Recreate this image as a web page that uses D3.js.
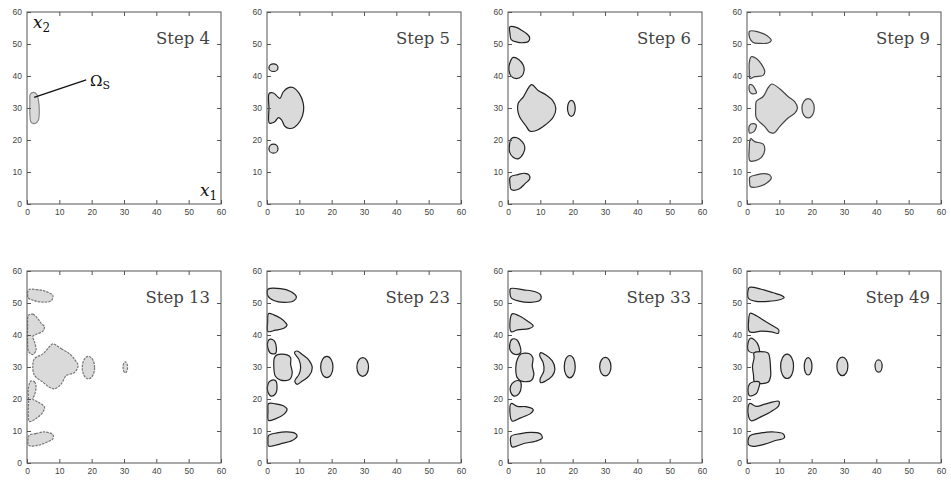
<!DOCTYPE html>
<html>
<head>
<meta charset="utf-8">
<script src="https://cdn.jsdelivr.net/npm/d3@7"></script>
<style>
    body { margin: 0; background: #fff; }
    svg { display: block; }
</style>
</head>
<body>
<svg width="951" height="483"></svg>
<script>
// Iteration steps shown in each panel
const steps = [4, 5, 6, 9, 13, 23, 33, 49];
const tickValues = [0, 10, 20, 30, 40, 50, 60];

// Region outlines, [x1, x2] in plot units
const step4Blobs = [
    [[1, 34.3], [2, 34.9], [3, 34.3], [3.6, 32], [3.8, 29], [3.5, 26.2], [2.5, 25.2], [1.3, 25.5], [0.9, 28], [0.9, 32]]
];
const step4Ovals = [];

const step5Blobs = [
    [[0.7, 34.6], [2, 34.7], [3, 33.8], [4, 33], [5, 35], [6.5, 36.3], [8, 36.4], [10, 34.5], [11.2, 31.5], [11.3, 29], [10.3, 26], [8.5, 24], [7, 23.6], [5.5, 24.3], [4.5, 26.3], [3.5, 27], [2.5, 25.8], [1.5, 25.3], [0.7, 25.3], [0.6, 30]]
];
const step5Ovals = [[2, 42.6, 1.4, 1.2], [2, 17.3, 1.4, 1.4]]; // cx, cy, rx, ry

const step6Blobs = [
    [[0.6, 55.4], [2.8, 55.1], [4.2, 54.3], [5.7, 53.3], [6.7, 52], [6.3, 50.8], [4.7, 50.4], [2.8, 50.6], [1, 51.4], [0.6, 53.3]],
    [[1.6, 45.8], [3.4, 45.1], [4.7, 43.4], [5, 41.8], [4.2, 39.9], [2.6, 39.2], [1, 39.9], [0.3, 41.8], [0.5, 43.9]],
    [[7.3, 37.3], [9.3, 35.5], [11.9, 34], [13.8, 32.4], [14.8, 29.8], [14, 27.2], [11.4, 24.6], [8.3, 22.8], [6.7, 22.8], [5.7, 24.2], [3.4, 27.7], [3.1, 31.3], [4.7, 33.4]],
    [[1, 20.4], [2.8, 20.7], [4.5, 19.3], [5.2, 17.8], [4.7, 15.7], [3.1, 14.1], [1.6, 14.6], [0.5, 16.2], [0.5, 18.8]],
    [[0.7, 8.4], [3.1, 9.2], [5.2, 9.6], [6.5, 9.1], [6.7, 7.8], [5.2, 6.3], [3.4, 4.7], [1, 4.5], [0.6, 6.3]]
];
const step6Ovals = [[19.6, 29.9, 1.2, 2.5]];

const step9Blobs = [
    [[0.8, 54], [3.4, 53.8], [6, 52.7], [7.5, 51.1], [6.5, 50.3], [3.9, 50.2], [1.9, 50.5], [0.9, 51.7]],
    [[1.3, 46], [2.9, 45.5], [4.4, 43.8], [5.5, 41.5], [5, 40.2], [2.4, 39.8], [0.9, 39.2], [0.7, 41.5], [0.7, 44.1]],
    [[0.8, 37.3], [1.7, 37.1], [2.4, 36.1], [2.9, 34.7], [1.5, 34.5], [0.8, 35.2]],
    [[7.7, 37.5], [10.1, 36], [12.7, 33.6], [14.8, 31.9], [15.6, 30], [14.8, 28.4], [12.7, 26.9], [10.1, 24.2], [8.4, 22.2], [7, 22.4], [5.5, 24.2], [2.9, 26.9], [2.7, 30], [2.9, 32.1], [5, 33.6], [6.5, 36.3]],
    [[0.8, 24.6], [2.2, 25.1], [2.9, 24.6], [2.2, 22.7], [0.8, 22.2]],
    [[1.1, 20.4], [2.4, 19.5], [5, 18.7], [5.5, 16.9], [4.4, 14.5], [2.4, 13.5], [0.9, 13.5], [0.7, 17.5]],
    [[0.9, 8.4], [2.9, 9.1], [5.5, 9.5], [7, 9.1], [7.5, 8], [6, 6.5], [3.4, 5.4], [1.1, 5.4], [0.8, 7]]
];
const step9Ovals = [[18.9, 29.9, 1.9, 3.0]];

const step13Blobs = [
    [[0.5, 54.1], [2.8, 54.2], [5.9, 53.6], [8, 52.3], [7.5, 50.7], [4.4, 50.3], [1.8, 50.9], [0.4, 51.6]],
    [[0.5, 46.2], [1.8, 46.5], [3.3, 45.2], [4.4, 43.6], [5.4, 42.6], [4.9, 41.2], [2.8, 40.2], [1.8, 39.6], [2.3, 37.9], [2.8, 35.3], [1.8, 33.9], [0.5, 34.8], [0.2, 37.9], [0.2, 42.2]],
    [[8, 37.2], [10.6, 35.7], [13.2, 34.1], [15, 32], [15.8, 30.4], [14.7, 28.3], [12.1, 27.3], [10.6, 24.7], [8.5, 23.2], [6.9, 23.7], [4.9, 25.3], [2.3, 27.4], [1.8, 30.5], [2.3, 32.6], [4.9, 34.1], [6.4, 35.7]],
    [[1.2, 25.6], [2.3, 25.4], [2.8, 23.8], [2.3, 21.2], [1.8, 20], [3.3, 19.1], [5.4, 17.5], [4.9, 15.9], [2.8, 13.9], [0.7, 13], [0.4, 15.9], [0.5, 19.5], [0.4, 23.2]],
    [[0.7, 8.7], [2.8, 9.2], [5.4, 9.7], [8, 8.9], [8, 7.6], [5.9, 6.4], [3.3, 5.5], [0.5, 5.5], [0.3, 7.1]]
];
const step13Ovals = [[19, 29.8, 1.9, 3.5], [30.4, 29.9, 0.7, 1.7]];

const step23Blobs = [
    [[0.3, 54.3], [4.2, 54.5], [7.3, 53.6], [9.1, 51.9], [8.3, 50.7], [5.2, 50.2], [2.1, 50.8], [0.3, 52.2]],
    [[0.5, 46.7], [2.1, 46.3], [4.2, 45.2], [5.7, 43.9], [6.2, 43.1], [5.2, 42.1], [2.6, 41.5], [0.3, 41.1], [0.2, 43.9]],
    [[1, 38.7], [2.1, 38.3], [2.9, 36], [2.6, 34.2], [1, 34.4], [0.2, 36.3], [0.3, 38]],
    [[3.1, 33.8], [6.2, 33.8], [7.3, 32.9], [7.3, 30.8], [7.8, 28.2], [7, 26.1], [4.2, 25.9], [2.6, 27.1], [2.1, 30.3], [2.3, 32.9]],
    [[9.3, 35], [10.9, 33.9], [13, 32.1], [14, 29.8], [13, 27.2], [10.9, 25.6], [9.3, 24.6], [8.6, 25.6], [9.9, 27.7], [10.4, 29.8], [9.9, 32.3], [8.5, 34.5]],
    [[1, 25.6], [2.6, 25.8], [3.1, 24], [2.6, 21.6], [1.3, 20.9], [0.2, 22.5], [0.3, 24.6]],
    [[0.5, 18.6], [2.6, 18.5], [5.2, 17.8], [6.2, 16.7], [5.2, 15.2], [2.6, 13.8], [0.5, 13.3], [0.3, 16.2]],
    [[0.5, 8.6], [3.1, 9.4], [6.2, 9.7], [8.8, 9.2], [9.3, 8.4], [7.8, 7], [4.2, 6], [0.5, 5.3], [0.3, 6.8]]
];
const step23Ovals = [[18.5, 30, 1.9, 3.3], [29.6, 30, 1.8, 2.9]];

const step33Blobs = [
    [[0.8, 54.5], [4.9, 54.1], [8.5, 53.5], [10.1, 52.5], [9.9, 50.9], [7, 50.2], [3.4, 50.6], [1, 51.6], [0.6, 53.3]],
    [[1.3, 46.6], [3.4, 46], [6, 44.4], [7.8, 42.8], [6.5, 42], [2.9, 41.6], [1, 41], [0.6, 43.9]],
    [[1.3, 38.7], [2.7, 38.5], [3.7, 36.6], [3.9, 34.5], [2.4, 33.9], [0.8, 35], [0.6, 37.4]],
    [[3.9, 34], [6.5, 34.2], [7.7, 32.9], [7.5, 30.3], [8, 27.6], [7.2, 25.8], [4.4, 25.5], [2.9, 26.6], [2.4, 29.8], [2.9, 32.4]],
    [[10.1, 34.5], [11.6, 33.8], [13.7, 31.9], [14.5, 29.3], [13.7, 27.2], [11.6, 25.6], [10.1, 25.1], [9.9, 26.1], [11.1, 28.8], [10.9, 31.3], [9.8, 33.6]],
    [[1.9, 25.4], [3.7, 25.6], [4.1, 24], [3.4, 21.7], [1.9, 20.9], [0.8, 22.2], [0.8, 24]],
    [[1, 18.6], [2.9, 17.7], [5.5, 17.6], [7.8, 16.7], [7, 15.5], [3.9, 14.1], [1.3, 13.1], [0.6, 15.7]],
    [[1, 8.4], [3.9, 9.2], [7, 9.6], [9.9, 9.2], [10.6, 7.8], [8.5, 6.8], [4.9, 6.1], [1.3, 5], [0.8, 6.5]]
];
const step33Ovals = [[19.1, 30.1, 1.7, 3.5], [30.1, 30.1, 1.75, 2.9]];

const step49Blobs = [
    [[0.8, 54.9], [4.4, 54.3], [8.1, 53.2], [10.6, 52.4], [11.5, 51.7], [10.1, 51], [6.5, 50.5], [2.4, 50.6], [0.5, 51.4], [0.3, 53.8]],
    [[1, 46.8], [2.9, 46], [5.5, 44.4], [8.1, 42.8], [9.8, 41.6], [9.6, 40.5], [7.5, 41], [4.4, 41.2], [0.8, 41], [0.5, 44.4]],
    [[1.1, 39], [2.4, 38.4], [3.6, 36.5], [3.7, 34.4], [2.5, 34.3], [0.5, 35], [0.3, 37.4]],
    [[2.2, 34.4], [6.5, 34.4], [7, 32.9], [7.3, 29.2], [7.3, 27.1], [6.5, 25.2], [2.4, 25.2], [2, 27.6], [1.7, 30.2], [2.2, 32.9]],
    [[3.9, 25.2], [3.6, 23.4], [2.9, 21.7], [0.8, 21], [0.3, 22.8], [0.8, 24.7], [2, 25.4]],
    [[0.8, 18.6], [2.9, 17.7], [5.5, 18.4], [8.1, 19.1], [9.8, 19.3], [9.8, 17.9], [7.5, 16.1], [4.4, 14.5], [1.3, 13.2], [0.3, 15.7]],
    [[0.8, 8.4], [4.4, 9.4], [8.1, 9.7], [11.2, 9.1], [11.5, 7.8], [9.1, 7.1], [5.5, 5.9], [1.9, 5.2], [0.5, 5.7]]
];
const step49Ovals = [[12.4, 30.2, 2, 3.8], [18.9, 30.2, 1.2, 2.7], [29.5, 30.2, 1.7, 2.9], [40.7, 30.3, 1.1, 1.9]];

const allBlobs = [step4Blobs, step5Blobs, step6Blobs, step9Blobs, step13Blobs, step23Blobs, step33Blobs, step49Blobs];
const allOvals = [step4Ovals, step5Ovals, step6Ovals, step9Ovals, step13Ovals, step23Ovals, step33Ovals, step49Ovals];

// Leader line for the Omega_S label in the first panel (plot units)
const omegaLine = [[2.2, 33.3], [18.3, 38.8]];
const omegaAt = [19.5, 37];

function drawSteps() {
    const svg = d3.select('svg');
    svg.selectAll('*').remove();

    const colLeft = [27, 267, 508, 747];
    const rowTop = [12, 271];
    const size = { w: 194, h: 192 };
    const outline = ['#888', '#222', '#222', '#444', '#777', '#222', '#222', '#222'];
    const dash = [null, null, null, null, '2.5,1', null, null, null];

    steps.forEach((step, i) => {
        const left = colLeft[i % 4];
        const top = rowTop[Math.floor(i / 4)];
        const g = svg.append('g').attr('transform', `translate(${left}, ${top})`);

        const xScale = d3.scaleLinear().domain([0, 60]).range([0, size.w]);
        const yScale = d3.scaleLinear().domain([0, 60]).range([size.h, 0]);

        const line = d3.line()
            .x(d => xScale(d[0]))
            .y(d => yScale(d[1]))
            .curve(d3.curveCatmullRomClosed.alpha(0.5));

        // Regions
        g.selectAll('.blob')
            .data(allBlobs[i])
            .join('path')
            .attr('class', 'blob')
            .attr('d', line)
            .attr('fill', '#dadada')
            .attr('stroke', outline[i])
            .attr('stroke-width', 1.2)
            .attr('stroke-dasharray', dash[i])
            .attr('stroke-linejoin', 'round');

        g.selectAll('.oval')
            .data(allOvals[i])
            .join('ellipse')
            .attr('class', 'oval')
            .attr('cx', d => xScale(d[0]))
            .attr('cy', d => yScale(d[1]))
            .attr('rx', d => xScale(d[2]) - xScale(0))
            .attr('ry', d => yScale(0) - yScale(d[3]))
            .attr('fill', '#dadada')
            .attr('stroke', outline[i])
            .attr('stroke-width', 1.2)
            .attr('stroke-dasharray', dash[i]);

        // Axes, ticks pointing inward on all four sides
        const styleAxis = sel => {
            sel.select('.domain').remove();
            sel.selectAll('line').attr('stroke', '#555');
            sel.selectAll('text')
                .style('font-family', '"Liberation Sans", Arial, sans-serif')
                .style('font-size', '8.5px')
                .attr('fill', '#444');
        };
        g.append('g')
            .attr('transform', `translate(0, ${size.h})`)
            .call(d3.axisBottom(xScale).tickValues(tickValues).tickSize(-4).tickPadding(5))
            .call(styleAxis);
        g.append('g')
            .call(d3.axisLeft(yScale).tickValues(tickValues).tickSize(-4).tickPadding(5))
            .call(styleAxis);
        g.append('g')
            .call(d3.axisTop(xScale).tickValues(tickValues.slice(1, -1)).tickSize(-4).tickFormat(''))
            .call(styleAxis);
        g.append('g')
            .attr('transform', `translate(${size.w}, 0)`)
            .call(d3.axisRight(yScale).tickValues(tickValues.slice(1, -1)).tickSize(-4).tickFormat(''))
            .call(styleAxis);

        g.append('rect')
            .attr('width', size.w)
            .attr('height', size.h)
            .attr('fill', 'none')
            .attr('stroke', '#555')
            .attr('stroke-width', 1);

        // Title
        g.append('text')
            .text(`Step ${step}`)
            .attr('x', size.w - 11)
            .attr('y', 32)
            .attr('text-anchor', 'end')
            .style('font-family', '"DejaVu Serif", serif')
            .style('font-size', '16.5px')
            .attr('fill', '#444');

        if (i === 0) {
            // Axis names
            const x2 = g.append('text')
                .attr('x', 6)
                .attr('y', 16)
                .style('font-family', '"DejaVu Serif", serif')
                .style('font-size', '17px')
                .attr('fill', '#111');
            x2.append('tspan').text('x').style('font-style', 'italic');
            x2.append('tspan').text('2').attr('dy', 4).style('font-size', '12px');

            const x1 = g.append('text')
                .attr('x', size.w - 21)
                .attr('y', size.h - 8)
                .style('font-family', '"DejaVu Serif", serif')
                .style('font-size', '17px')
                .attr('fill', '#111');
            x1.append('tspan').text('x').style('font-style', 'italic');
            x1.append('tspan').text('1').attr('dy', 4).style('font-size', '12px');

            g.append('line')
                .attr('x1', xScale(omegaLine[0][0]))
                .attr('y1', yScale(omegaLine[0][1]))
                .attr('x2', xScale(omegaLine[1][0]))
                .attr('y2', yScale(omegaLine[1][1]))
                .attr('stroke', '#111')
                .attr('stroke-width', 1.3);

            const om = g.append('text')
                .attr('x', xScale(omegaAt[0]))
                .attr('y', yScale(omegaAt[1]))
                .style('font-family', '"DejaVu Serif", serif')
                .style('font-size', '15px')
                .attr('fill', '#111');
            om.append('tspan').text('Ω');
            om.append('tspan').text('S').attr('dy', 3).style('font-size', '11px');
        }
    });
}

window.addEventListener('load', drawSteps);
</script>
</body>
</html>
